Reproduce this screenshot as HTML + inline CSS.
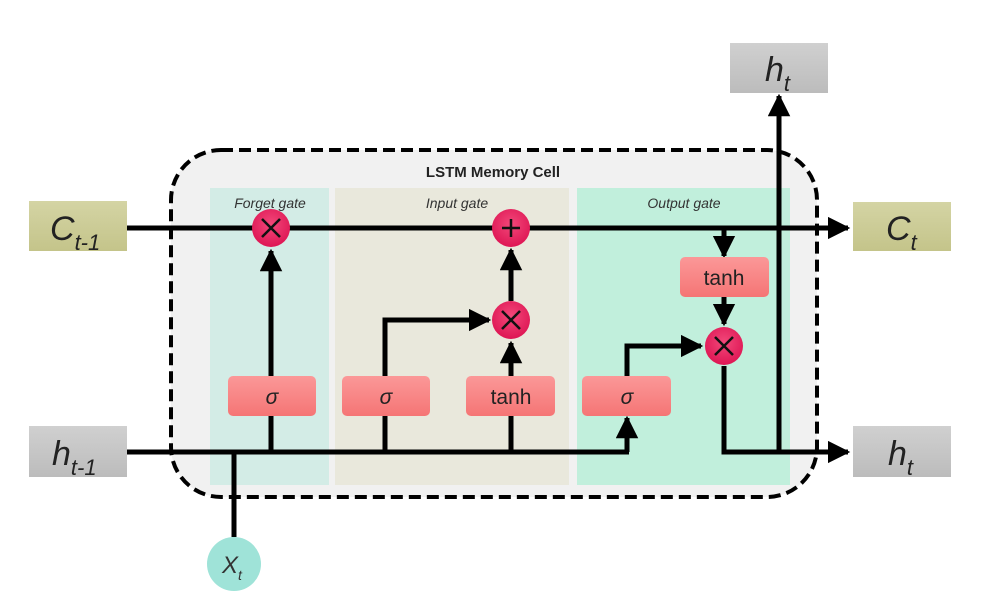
<!DOCTYPE html>
<html><head><meta charset="utf-8"><style>
html,body{margin:0;padding:0;background:#fff;}
svg{display:block;font-family:"Liberation Sans",sans-serif;}
</style></head><body>
<svg width="994" height="603" viewBox="0 0 994 603" xmlns="http://www.w3.org/2000/svg">
<defs>
<linearGradient id="gy" x1="0" y1="0" x2="0" y2="1"><stop offset="0" stop-color="#d4d4a4"/><stop offset="1" stop-color="#c4c48a"/></linearGradient>
<linearGradient id="gg" x1="0" y1="0" x2="0" y2="1"><stop offset="0" stop-color="#d0d0d0"/><stop offset="1" stop-color="#bcbcbc"/></linearGradient>
<linearGradient id="gr" x1="0" y1="0" x2="0" y2="1"><stop offset="0" stop-color="#fb9898"/><stop offset="1" stop-color="#f57575"/></linearGradient>
<radialGradient id="gc" cx="0.5" cy="0.4" r="0.6"><stop offset="0" stop-color="#f2487a"/><stop offset="1" stop-color="#de1654"/></radialGradient>
<marker id="ar" viewBox="0 0 10 10" refX="9" refY="5" markerWidth="4.5" markerHeight="4.5" orient="auto" markerUnits="strokeWidth"><path d="M0,0L10,5L0,10z" fill="#000"/></marker>
</defs>
<rect x="0" y="0" width="994" height="603" fill="#fff"/>
<!-- cell -->
<rect x="171" y="150" width="646" height="347" rx="50" fill="#f1f1f1" stroke="#000" stroke-width="4" stroke-dasharray="12,6"/>
<rect x="210" y="188" width="119" height="297" fill="#d3ece6"/>
<rect x="335" y="188" width="234" height="297" fill="#e9e8dc"/>
<rect x="577" y="188" width="213" height="297" fill="#c1efdc"/>
<text x="493" y="177" font-size="15" font-weight="bold" text-anchor="middle" fill="#222">LSTM Memory Cell</text>
<g font-size="14" font-style="italic" fill="#333" text-anchor="middle">
<text x="270" y="208">Forget gate</text>
<text x="457" y="208">Input gate</text>
<text x="684" y="208">Output gate</text>
</g>
<!-- lines -->
<g stroke="#000" stroke-width="5" fill="none">
<line x1="127" y1="228" x2="848" y2="228" marker-end="url(#ar)"/>
<line x1="127" y1="452" x2="629" y2="452"/>
<line x1="234" y1="537" x2="234" y2="452"/>
<line x1="271" y1="452" x2="271" y2="416"/>
<line x1="271" y1="376" x2="271" y2="251" marker-end="url(#ar)"/>
<line x1="385" y1="452" x2="385" y2="416"/>
<polyline points="385,376 385,320 489,320" marker-end="url(#ar)"/>
<line x1="511" y1="452" x2="511" y2="416"/>
<line x1="511" y1="376" x2="511" y2="343" marker-end="url(#ar)"/>
<line x1="511" y1="301" x2="511" y2="250" marker-end="url(#ar)"/>
<polyline points="627,452 627,418" marker-end="url(#ar)"/>
<polyline points="627,376 627,346 701,346" marker-end="url(#ar)"/>
<line x1="724" y1="228" x2="724" y2="256" marker-end="url(#ar)"/>
<line x1="724" y1="297" x2="724" y2="324" marker-end="url(#ar)"/>
<polyline points="724,366 724,452 848,452" marker-end="url(#ar)"/>
<line x1="779" y1="452" x2="779" y2="96" marker-end="url(#ar)"/>
</g>
<!-- io boxes -->
<rect x="29" y="201" width="98" height="50" fill="url(#gy)"/>
<rect x="29" y="426" width="98" height="51" fill="url(#gg)"/>
<rect x="853" y="202" width="98" height="49" fill="url(#gy)"/>
<rect x="853" y="426" width="98" height="51" fill="url(#gg)"/>
<rect x="730" y="43" width="98" height="50" fill="url(#gg)"/>
<g font-size="34" font-style="italic" fill="#222">
<text x="50" y="240">C<tspan font-size="22" dy="10">t-1</tspan></text>
<text x="52" y="465">h<tspan font-size="22" dy="10">t-1</tspan></text>
<text x="886" y="240">C<tspan font-size="22" dy="10">t</tspan></text>
<text x="888" y="465">h<tspan font-size="22" dy="10">t</tspan></text>
<text x="765" y="81">h<tspan font-size="22" dy="10">t</tspan></text>
</g>
<!-- gates -->
<g fill="url(#gr)">
<rect x="228" y="376" width="88" height="40" rx="5"/>
<rect x="342" y="376" width="88" height="40" rx="5"/>
<rect x="466" y="376" width="89" height="40" rx="5"/>
<rect x="582" y="376" width="89" height="40" rx="5"/>
<rect x="680" y="257" width="89" height="40" rx="5"/>
</g>
<g font-size="21" fill="#222" text-anchor="middle">
<text x="272" y="404" font-style="italic">σ</text>
<text x="386" y="404" font-style="italic">σ</text>
<text x="627" y="404" font-style="italic">σ</text>
<text x="511" y="404">tanh</text>
<text x="724" y="285">tanh</text>
</g>
<!-- ops -->
<g fill="url(#gc)">
<circle cx="271" cy="228" r="19"/>
<circle cx="511" cy="228" r="19"/>
<circle cx="511" cy="320" r="19"/>
<circle cx="724" cy="346" r="19"/>
</g>
<g stroke="#111" stroke-width="2.5">
<path d="M262,219L280,237M280,219L262,237"/>
<path d="M502,228H520M511,219V237"/>
<path d="M502,311L520,329M520,311L502,329"/>
<path d="M715,337L733,355M733,337L715,355"/>
</g>
<circle cx="234" cy="564" r="27" fill="#9fe3d8"/>
<text x="222" y="573" font-size="24" font-style="italic" fill="#333">X<tspan font-size="14" dy="7">t</tspan></text>
</svg>
</body></html>
